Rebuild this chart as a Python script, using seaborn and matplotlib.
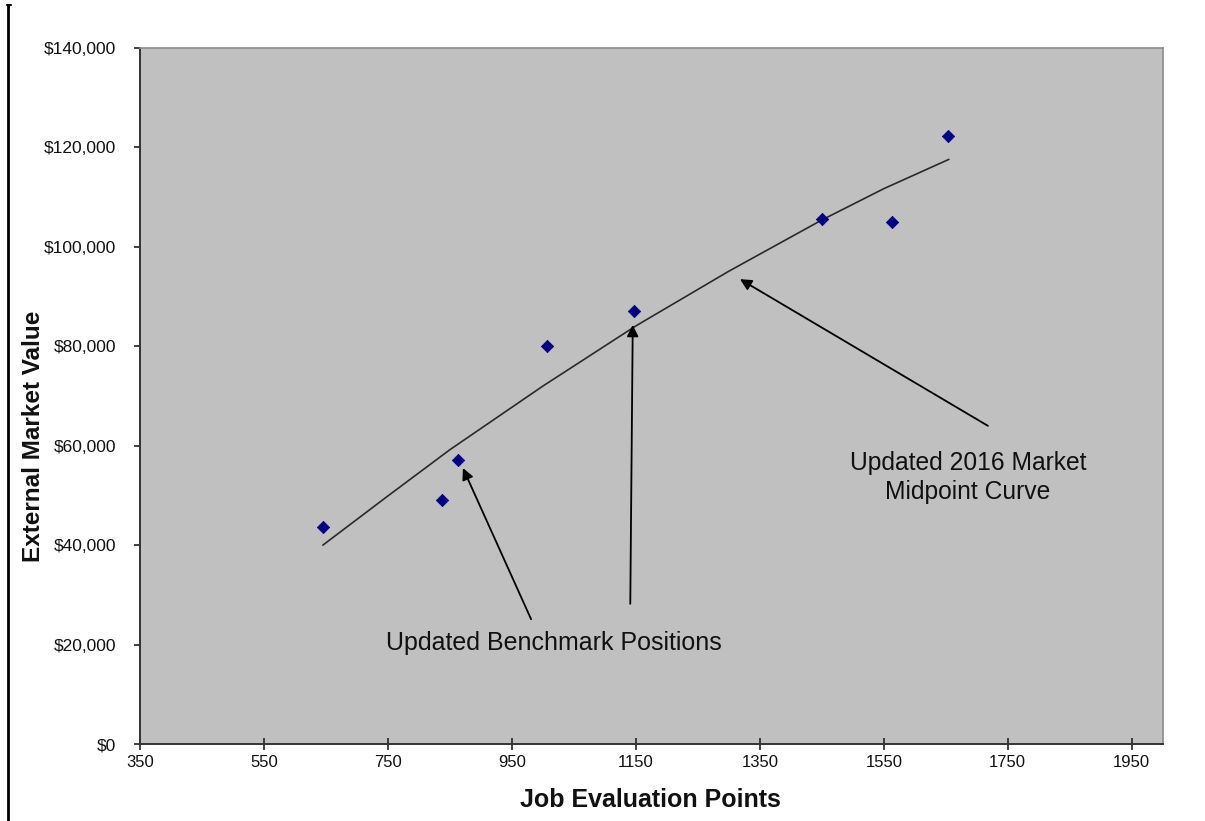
import matplotlib
matplotlib.use("Agg")
import matplotlib.pyplot as plt
from matplotlib.lines import Line2D
from matplotlib.ticker import FuncFormatter
import seaborn as sns
import pandas as pd

# Benchmark jobs: job evaluation points vs external market value
bench_points = [645, 837, 863, 1006, 1147, 1450, 1563, 1653]
bench_values = [43600, 49000, 57100, 80000, 87100, 105600, 105000, 122200]

# Updated 2016 market midpoint curve
curve_points = [645, 750, 850, 1000, 1150, 1300, 1450, 1550, 1655]
curve_values = [40000, 49900, 59200, 72000, 84100, 95100, 105400, 111700, 117600]

x_ticks = [350, 550, 750, 950, 1150, 1350, 1550, 1750, 1950]
y_ticks = [0, 20000, 40000, 60000, 80000, 100000, 120000, 140000]

bench = pd.DataFrame({"points": bench_points, "value": bench_values})
curve = pd.DataFrame({"points": curve_points, "value": curve_values})

sns.set_theme(style="white")
plt.rcParams["font.family"] = ["Liberation Sans", "DejaVu Sans"]

fig = plt.figure(figsize=(12.05, 8.21), dpi=100)
ax = fig.add_axes([140 / 1205, 1 - 744 / 821, 1022.7 / 1205, 696 / 821])
ax.set_facecolor("#C0C0C0")

sns.lineplot(data=curve, x="points", y="value", ax=ax, sort=False,
             estimator=None, color="#2A2A2A", linewidth=1.2)
sns.scatterplot(data=bench, x="points", y="value", ax=ax, marker="D",
                color="#000080", edgecolor="#000080", s=40, zorder=3)

ax.set_xlim(350, 2000)
ax.set_ylim(0, 140000)
ax.set_xticks(x_ticks)
ax.set_yticks(y_ticks)
ax.yaxis.set_major_formatter(FuncFormatter(lambda v, _: f"${v:,.0f}"))

for side in ("left", "bottom"):
    ax.spines[side].set_color("#333333")
    ax.spines[side].set_linewidth(1.4)
for side in ("top", "right"):
    ax.spines[side].set_color("#8C8C8C")
    ax.spines[side].set_linewidth(1.2)

ax.tick_params(axis="y", left=True, direction="out", length=4.5, width=1.2,
               color="#222222", pad=12.5, labelsize=12.5, labelcolor="#111111")
ax.tick_params(axis="x", bottom=True, direction="inout", length=8, width=1.2,
               color="#222222", pad=4, labelsize=12, labelcolor="#111111")

ax.set_xlabel("Job Evaluation Points", fontsize=18, fontweight="bold",
              color="#111111", va="center")
ax.xaxis.set_label_coords(0.4987, -0.0805)
ax.set_ylabel("External Market Value", fontsize=17.5, fontweight="bold",
              color="#111111", va="center")
ax.yaxis.set_label_coords(-0.1046, 0.4418)

arrow_kw = dict(arrowstyle="-|>", color="black", lw=1.3,
                mutation_scale=17, shrinkA=0, shrinkB=0)

ax.annotate("", xy=(871, 55500), xytext=(981, 25100), arrowprops=arrow_kw)
ax.annotate("", xy=(1145, 84300), xytext=(1141, 28200), arrowprops=arrow_kw)
ax.annotate("", xy=(1318, 93500), xytext=(1718, 64000), arrowprops=arrow_kw)

ax.text(1018, 20300, "Updated Benchmark Positions", fontsize=18,
        ha="center", va="center", color="#111111")
ax.text(1686, 53600, "Updated 2016 Market\nMidpoint Curve", fontsize=17.7,
        ha="center", va="center", color="#111111", linespacing=1.27)

# page frame line along the left edge
fig.add_artist(Line2D([8 / 1205, 8 / 1205], [1 - 5 / 821, 0],
                      transform=fig.transFigure, color="black", lw=2))
fig.add_artist(Line2D([7 / 1205, 11 / 1205], [1 - 5.5 / 821, 1 - 5.5 / 821],
                      transform=fig.transFigure, color="black", lw=1.5))

fig.savefig("out.png", dpi=100, facecolor="white")
